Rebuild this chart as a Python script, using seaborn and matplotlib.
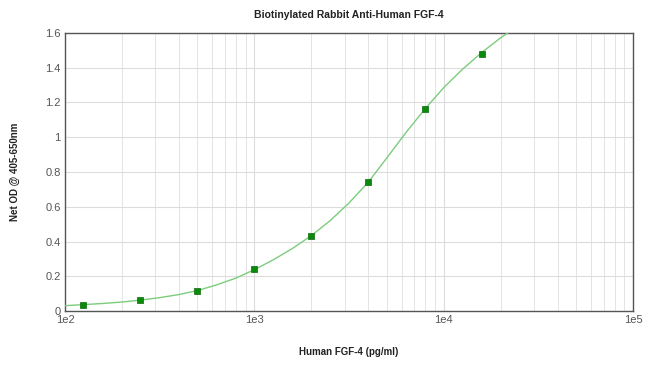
import matplotlib
matplotlib.use("Agg")
import matplotlib.pyplot as plt
import seaborn as sns
import pandas as pd
from matplotlib.ticker import LogLocator, FixedLocator, NullFormatter

# standard points (concentration pg/ml, net OD)
conc = [125, 250, 500, 1000, 2000, 4000, 8000, 16000]
od = [0.034, 0.064, 0.115, 0.242, 0.432, 0.744, 1.164, 1.479]

# fitted curve
curve_x = [100, 125, 160, 200, 250, 315, 400, 500, 630, 800, 1000, 1260, 1600,
           2000, 2500, 3150, 4000, 5000, 6300, 8000, 10000, 12600, 16000, 20000, 22500]
curve_y = [0.031, 0.037, 0.044, 0.052, 0.063, 0.077, 0.095, 0.118, 0.15, 0.19,
           0.238, 0.295, 0.362, 0.434, 0.518, 0.62, 0.742, 0.88, 1.025, 1.165,
           1.285, 1.392, 1.49, 1.572, 1.61]

y_ticks = [0, 0.2, 0.4, 0.6, 0.8, 1, 1.2, 1.4, 1.6]
y_labels = ["0", "0.2", "0.4", "0.6", "0.8", "1", "1.2", "1.4", "1.6"]
x_ticks = [1e2, 1e3, 1e4, 1e5]
x_labels = ["1e2", "1e3", "1e4", "1e5"]

sns.set_style("white")
plt.rcParams['font.family'] = ['Liberation Sans', 'DejaVu Sans']

fig = plt.figure(figsize=(6.5, 3.69), dpi=100)
ax = fig.add_axes([0.1, 0.157, 0.874, 0.754])

df_curve = pd.DataFrame({'x': curve_x, 'y': curve_y})
df_pts = pd.DataFrame({'x': conc, 'y': od})

ax.set_xscale('log')
sns.lineplot(data=df_curve, x='x', y='y', ax=ax, color='#7ccc7c', linewidth=1.0, zorder=3)
sns.scatterplot(data=df_pts, x='x', y='y', ax=ax, marker='s', s=22, color='#0a8a0a',
                edgecolor='#0a6a0a', linewidth=0.5, zorder=4)

ax.set_xlim(1e2, 1e5)
ax.set_ylim(0, 1.6)
ax.xaxis.set_major_locator(FixedLocator(x_ticks))
ax.set_xticklabels(x_labels)
ax.xaxis.set_minor_locator(LogLocator(base=10, subs=range(2, 10)))
ax.xaxis.set_minor_formatter(NullFormatter())
ax.set_yticks(y_ticks)
ax.set_yticklabels(y_labels)

ax.grid(True, which='major', axis='both', color='#dcdcdc', linewidth=0.8, zorder=0)
ax.grid(True, which='minor', axis='x', color='#e4e4e4', linewidth=0.7, zorder=0)
ax.set_axisbelow(True)

ax.tick_params(axis='both', which='both', length=0, labelsize=8, labelcolor='#555555', pad=3)
for sp in ax.spines.values():
    sp.set_color('#555555')
    sp.set_linewidth(1.0)

ax.set_xlabel('Human FGF-4 (pg/ml)', fontsize=7, fontweight='bold', color='#222222', labelpad=16)
ax.set_ylabel('Net OD @ 405-650nm', fontsize=7, fontweight='bold', color='#222222', labelpad=18)
ax.set_title('Biotinylated Rabbit Anti-Human FGF-4', fontsize=7.5, fontweight='bold',
             color='#222222', pad=11)

fig.savefig('out.png', dpi=100)
